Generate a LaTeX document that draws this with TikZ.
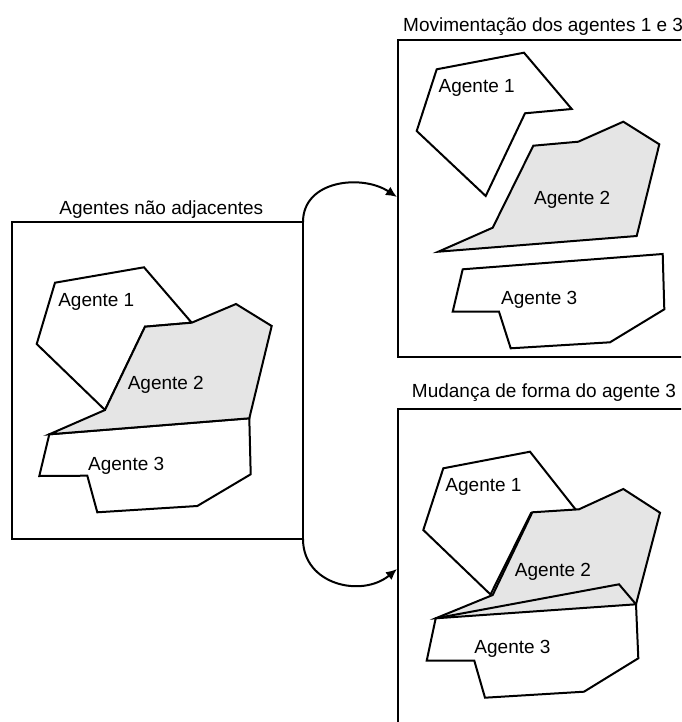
\documentclass[tikz,border=0pt]{standalone}
\usepackage{fontspec}
\setmainfont{Liberation Sans}
\usetikzlibrary{arrows.meta}
\definecolor{agray}{RGB}{229,229,229}
\begin{document}
\begin{tikzpicture}[x=1pt,y=-1pt,
  agent/.style={draw=black,line width=2pt,line join=miter,fill=white},
  agentgray/.style={agent,fill=agray},
  lbl/.style={anchor=base,inner sep=0pt,font=\fontsize{19}{22}\selectfont},
  frame/.style={draw=black,line width=2pt},
  flow/.style={draw=black,line width=2pt,-{Latex[length=11pt,width=10pt]}}]
\useasboundingbox (0,0) rectangle (681,722);
\clip (0,0) rectangle (681,722);

% ---- left panel ----
\node[frame,minimum width=291pt,minimum height=317pt,inner sep=0pt,outer sep=0pt] (L) at (157.5,380.5) {};
\node[lbl] (tL) at (161.3,214.8) {Agentes não adjacentes};
\path[agent] (55,282.7) -- (144,267.3) -- (191.7,322.7) -- (145,326.7) -- (105,410) -- (36.7,344) -- cycle;
\path[agent] (49.3,434.3) -- (249.3,418.3) -- (250.7,474.3) -- (197.3,506) -- (97.3,512.3) -- (87.3,475.7) -- (39.3,476) -- cycle;
\path[agentgray] (145,326.7) -- (191.7,322.7) -- (236,304) -- (271.7,326) -- (249.3,418.3) -- (49.3,434.3) -- (105,410) -- cycle;
\node[lbl] (L1) at (96.3,306.5) {Agente 1};
\node[lbl] (L2) at (165.8,389.8) {Agente 2};
\node[lbl] (L3) at (126.2,470.5) {Agente 3};

% ---- top right panel ----
\draw[frame] (700,40.5) -- (398,40.5) -- (398,356.5) -- (700,356.5);
\coordinate (Tin) at (397,197);
\node[lbl,anchor=base west] (tT) at (403,31.5) {Movimentação dos agentes 1 e 3};
\path[agent] (436.7,69.3) -- (524,52.7) -- (571.7,109) -- (525,113.3) -- (485.7,196) -- (416.7,131) -- cycle;
\path[agentgray] (533.3,145.7) -- (578.3,141.7) -- (623.3,121.7) -- (659.3,144.3) -- (636.7,236) -- (438.3,251.7) -- (492.7,227.7) -- cycle;
\path[agent] (462.7,269.3) -- (662.7,254) -- (664.3,309.3) -- (610,342.3) -- (510.7,348.3) -- (499,311.7) -- (452.7,311.7) -- cycle;
\node[lbl] (T1) at (476.7,92.5) {Agente 1};
\node[lbl] (T2) at (572.2,204.8) {Agente 2};
\node[lbl] (T3) at (539.2,304.2) {Agente 3};

% ---- bottom right panel ----
\draw[frame] (700,409) -- (398,409) -- (398,740);
\coordinate (Bin) at (397,569);
\node[lbl] (tB) at (544,397) {Mudança de forma do agente 3};
\path[agent] (443.3,468.3) -- (530,451.7) -- (576,510) -- (531,513) -- (490.5,594.5) -- (423.3,530) -- cycle;
\path[fill=white] (435.7,618.3) -- (619,584.3) -- (636,604.3) -- (638.3,658.3) -- (584,691.7) -- (485,697.7) -- (474.3,660.7) -- (426.7,660.7) -- cycle;
\path[agentgray] (532.3,512.3) -- (579,509.3) -- (623.3,489) -- (660,512.7) -- (636,604.3) -- (435.7,618.3) -- (492.7,595) -- cycle;
\path[agent,fill=none] (435.7,618.3) -- (619,584.3) -- (636,604.3) -- (638.3,658.3) -- (584,691.7) -- (485,697.7) -- (474.3,660.7) -- (426.7,660.7) -- cycle;
\node[lbl] (B1) at (483.5,491.5) {Agente 1};
\node[lbl] (B2) at (553,576.5) {Agente 2};
\node[lbl] (B3) at (512.5,653.8) {Agente 3};

% ---- connectors ----
\draw[flow] (L.north east) .. controls (303,180) and (362,174) .. (Tin);
\draw[flow] (L.south east) .. controls (303,585) and (362,598) .. (Bin);
\end{tikzpicture}
\end{document}
